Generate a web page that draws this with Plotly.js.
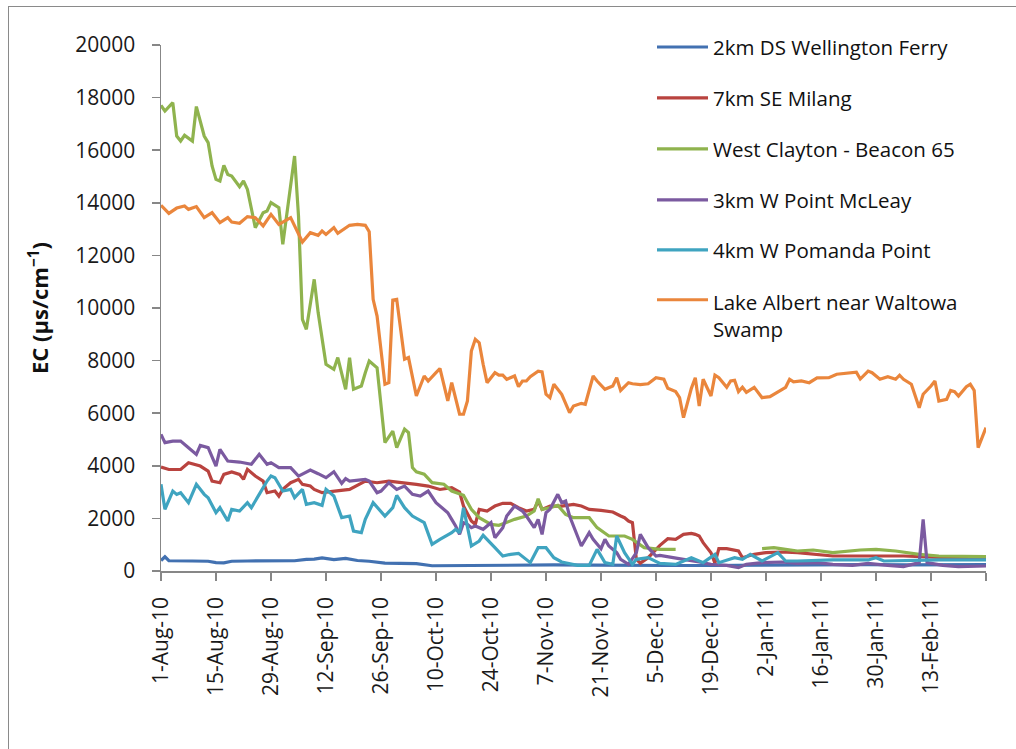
<!DOCTYPE html>
<html>
<head>
<meta charset="utf-8">
<script src="https://cdn.plot.ly/plotly-3.0.1.min.js"></script>
<style>
  html, body { margin: 0; padding: 0; background: #ffffff; }
  #wrap { position: relative; width: 1016px; height: 749px; }
  #chart { position: absolute; left: 0; top: 0; width: 1016px; height: 749px; }
  #frameTop { position: absolute; left: 8px; top: 6px; width: 1008px; height: 0; border-top: 1.5px solid #8a8a8a; }
  #frameLeft { position: absolute; left: 8px; top: 6px; width: 0; height: 743px; border-left: 1.5px solid #8a8a8a; }
</style>
</head>
<body>
<div id="wrap">
  <div id="chart"></div>
  <div id="frameTop"></div>
  <div id="frameLeft"></div>
</div>
<script>
// Day offsets are days since 1-Aug-10
const wellingtonDays = [0,1,2,4,8,12,14,16,18,22,26,30,34,37,39,41,44,47,50,53,57,61,65,69,75,80,90,100,110,120,130,140,150,160,170,180,190,200,210];
const wellingtonEC   = [400,540,390,380,380,370,320,310,370,380,380,380,390,440,450,500,430,480,400,370,300,290,280,200,210,220,220,230,220,230,210,210,220,230,230,240,230,230,240];

const milangDays = [0,2,5,7,10,12,13,15,16,18,20,21,22,24,26,27,29,30,31,33,35,36,38,39,41,45,48,52,55,58,62,65,68,71,74,76,77,79,80,81,83,85,87,89,91,93,95,96,97,99,102,105,107,109,112,115,117,118,119,120,121,122,124,126,127,129,131,133,135,136,137,138,140,141,142,144,147,148,151,154,158,162,169,171,176,180,189,198,210];
const milangEC   = [3950,3860,3860,4117,3990,3800,3420,3357,3674,3763,3674,3484,3864,3610,3420,2977,3040,2850,3104,3357,3484,3294,3230,3104,2977,3066,3104,3420,3357,3420,3357,3294,3230,3100,3167,3000,2470,1900,1774,2344,2280,2470,2572,2572,2407,2280,2344,2660,2344,2470,2470,2534,2470,2344,2306,2242,2090,2027,1900,1837,443,300,507,824,976,1229,1204,1394,1432,1394,1330,1077,697,300,849,849,760,507,634,697,722,697,620,570,570,570,570,520,507];

const claytonDays = [0,1,3,4,5,6,8,9,11,12,13,14,15,16,17,18,20,21,22,23,24,26,27,28,30,31,34,35,36,37,39,40,42,44,45,47,48,49,51,52,53,55,56,57,59,60,62,63,64,65,67,69,72,74,77,79,81,84,86,89,90,93,95,96,97,99,101,103,105,109,111,114,118,120,123,127,131,142,153,156,159,162,166,171,178,182,187,193,198,210];
const claytonEC   = [17705,17490,17810,16540,16350,16565,16350,17660,16540,16290,15400,14890,14830,15425,15080,15020,14615,14830,14510,13815,13055,13625,13690,14005,13815,12420,15780,13500,9570,9190,11090,9825,7860,7670,8115,6910,8115,6910,7035,7540,7985,7730,6150,4880,5320,4690,5390,5260,3930,3770,3680,3360,3300,3040,2880,2344,2027,1774,1736,1900,1964,2090,2280,2750,2344,2407,2496,2154,2027,2027,1647,1330,1330,1204,887,824,824,null,849,887,824,760,798,697,798,824,760,634,570,545];

const mcleayDays = [0,1,3,5,7,9,10,12,14,15,17,20,23,25,27,28,30,33,35,38,40,42,44,46,47,48,52,53,55,56,58,60,62,64,66,68,70,73,74,75,76,77,78,79,80,82,84,85,87,88,90,92,93,95,96,97,98,99,101,102,103,104,106,107,109,110,112,113,114,116,117,119,121,122,124,126,127,130,133,137,140,144,147,149,153,158,162,167,171,176,180,185,189,193,194,195,199,203,210];
const mcleayEC   = [5195,4880,4940,4940,4690,4435,4776,4690,3990,4625,4180,4143,4055,4435,4055,4117,3928,3928,3610,3840,3700,3547,3775,3332,3510,3420,3484,3420,2977,3040,3357,3104,3230,2914,2850,3040,2597,2217,1964,1710,1394,1837,1774,1647,1710,1584,1837,1267,1647,2090,2470,2280,2090,1647,1964,1394,2217,2344,2914,2597,2660,2090,1330,950,1457,1204,849,1204,950,697,443,253,697,1394,887,570,595,507,443,342,253,215,127,253,317,342,291,317,253,215,291,215,165,317,1964,317,215,165,190];

const pomandaDays = [0,1,3,4,5,7,9,11,12,14,15,17,18,20,22,23,25,27,28,29,31,33,34,36,37,39,41,42,44,46,48,49,51,52,54,56,57,59,60,62,64,67,69,71,74,75,76,77,79,81,82,85,87,89,91,94,96,98,100,102,106,109,111,113,115,116,118,120,121,124,127,131,135,138,141,142,146,148,150,153,157,159,162,171,180,182,184,198,210];
const pomandaEC   = [3294,2344,3040,2914,2977,2597,3294,2914,2787,2217,2407,1900,2344,2280,2597,2407,2914,3420,3610,3547,3040,3104,2787,3104,2534,2597,2496,3104,2850,2027,2090,1520,1457,1964,2597,2280,2090,2407,2876,2407,2090,1837,1014,1204,1457,1584,1457,2407,950,1140,1356,887,570,634,672,317,887,887,507,342,215,215,824,317,253,1330,697,253,443,507,291,253,507,317,634,317,507,443,634,380,697,380,380,420,420,507,380,420,420];

const albertDays = [0,2,4,6,7,9,11,13,15,17,18,20,22,24,26,28,30,32,33,36,38,40,41,42,44,45,48,50,52,53,54,55,57,58,59,60,62,63,65,67,68,70,71,73,74,76,77,78,79,80,81,82,83,85,86,87,88,90,91,92,93,94,96,97,98,99,100,102,104,105,107,108,110,111,113,115,116,117,119,120,122,124,126,128,129,131,132,133,135,136,137,138,140,141,142,144,145,146,147,148,149,151,152,153,155,157,159,160,161,163,165,167,170,172,175,177,178,180,181,183,185,187,188,189,191,192,193,194,195,196,197,198,200,201,202,203,205,206,207,208,210];
const albertEC   = [13905,13600,13800,13880,13750,13855,13435,13625,13245,13435,13270,13220,13475,13435,13120,13560,13180,13370,13435,12510,12865,12765,12930,12800,13055,12840,13145,13180,13145,12900,10330,9695,7100,7160,10300,10330,8050,8115,6655,7415,7225,7540,7700,6465,7160,5960,5960,6465,8365,8810,8680,7860,7160,7540,7445,7445,7290,7415,7010,7225,7225,7390,7600,7570,6720,6590,7100,6720,6020,6275,6375,6340,7415,7225,6910,7035,7350,6865,7160,7120,7085,7120,7350,7290,6945,6820,6590,5830,6945,7350,6275,7290,6655,7445,7350,6985,7225,7250,6820,6985,6795,6985,6795,6590,6630,6795,6985,7290,7190,7225,7160,7340,7350,7480,7520,7560,7300,7600,7540,7290,7390,7290,7445,7290,7100,6655,6210,6720,6865,7035,7225,6465,6530,6865,6820,6655,7010,7100,6865,4690,5450];

const seriesNames = ["2km DS Wellington Ferry","7km SE Milang","West Clayton - Beacon 65","3km W Point McLeay","4km W Pomanda Point","Lake Albert near Waltowa<br>Swamp"];
const seriesColors = ["#4271B1","#B9433F","#8FB34E","#7B5AA0","#3FA4C0","#EA863C"];

const tickDates = ["2010-08-01","2010-08-15","2010-08-29","2010-09-12","2010-09-26","2010-10-10","2010-10-24","2010-11-07","2010-11-21","2010-12-05","2010-12-19","2011-01-02","2011-01-16","2011-01-30","2011-02-13","2011-02-27"];
const tickLabels = ["1-Aug-10","15-Aug-10","29-Aug-10","12-Sep-10","26-Sep-10","10-Oct-10","24-Oct-10","7-Nov-10","21-Nov-10","5-Dec-10","19-Dec-10","2-Jan-11","16-Jan-11","30-Jan-11","13-Feb-11",""];
const yTicks = [0,2000,4000,6000,8000,10000,12000,14000,16000,18000,20000];
const yTickLabels = ["0","2000","4000","6000","8000","10000","12000","14000","16000","18000","20000"];

function toDates(days) {
  const base = Date.UTC(2010, 7, 1);
  return days.map(d => new Date(base + d * 86400000).toISOString().slice(0, 10));
}

const allDays = [wellingtonDays, milangDays, claytonDays, mcleayDays, pomandaDays, albertDays];
const allEC = [wellingtonEC, milangEC, claytonEC, mcleayEC, pomandaEC, albertEC];

const traces = allDays.map((days, i) => ({
  type: "scatter",
  mode: "lines",
  x: toDates(days),
  y: allEC[i],
  name: seriesNames[i],
  connectgaps: false,
  showlegend: false,
  line: { color: seriesColors[i], width: 3.2 },
  hoverinfo: "x+y+name"
}));

const axisColor = "#878787";
const font = "'Open Sans', 'Liberation Sans', sans-serif";

// Legend drawn in the plot area (layout geometry, pixels converted to paper units)
const plotL = 161, plotW = 825, plotB = 571.5, plotH = 526.5;
const px2x = p => (p - plotL) / plotW;
const px2y = p => (plotB - p) / plotH;
const legendRowsPx = [47, 98, 149, 200, 250, 300];
const legendShapes = seriesNames.map((n, i) => ({
  type: "line", xref: "paper", yref: "paper", layer: "above",
  x0: px2x(657), x1: px2x(708), y0: px2y(legendRowsPx[i]), y1: px2y(legendRowsPx[i]),
  line: { color: seriesColors[i], width: 3.2 }
}));
const legendAnnotations = seriesNames.map((n, i) => {
  const multi = n.indexOf("<br>") >= 0;
  return {
    xref: "paper", yref: "paper", showarrow: false,
    x: px2x(711), xanchor: "left",
    y: multi ? px2y(legendRowsPx[i] - 14) : px2y(legendRowsPx[i]),
    yanchor: multi ? "top" : "middle",
    align: "left",
    text: n,
    font: { family: font, size: 20.5, color: "#111111" }
  };
});

const layout = {
  width: 1016,
  height: 749,
  margin: { l: 161, r: 30, t: 45, b: 178, pad: 0 },
  paper_bgcolor: "#ffffff",
  plot_bgcolor: "#ffffff",
  font: { family: font, color: "#1a1a1a", size: 21 },
  showlegend: false,
  shapes: legendShapes,
  annotations: legendAnnotations,
  xaxis: {
    type: "date",
    range: ["2010-08-01", "2011-02-27"],
    tickmode: "array",
    tickvals: tickDates,
    ticktext: tickLabels,
    tickangle: -90,
    ticks: "outside",
    ticklen: 8,
    tickwidth: 1.5,
    tickcolor: axisColor,
    ticklabelstandoff: 8,
    showline: true,
    linecolor: axisColor,
    linewidth: 1.5,
    showgrid: false,
    zeroline: false,
    tickfont: { family: font, size: 21, color: "#1a1a1a" },
    fixedrange: true
  },
  yaxis: {
    range: [0, 20000],
    tickmode: "array",
    tickvals: yTicks,
    ticktext: yTickLabels,
    ticks: "outside",
    ticklen: 8,
    tickwidth: 1.5,
    tickcolor: axisColor,
    ticklabelstandoff: 12,
    showline: true,
    linecolor: axisColor,
    linewidth: 1.5,
    showgrid: false,
    zeroline: false,
    tickfont: { family: font, size: 21, color: "#1a1a1a" },
    title: { text: "<b>EC (µs/cm<sup>−1</sup>)</b>", font: { family: font, size: 22, color: "#111111" }, standoff: 20 },
    fixedrange: true
  }
};

Plotly.newPlot("chart", traces, layout, { displayModeBar: false, staticPlot: true });
</script>
</body>
</html>
